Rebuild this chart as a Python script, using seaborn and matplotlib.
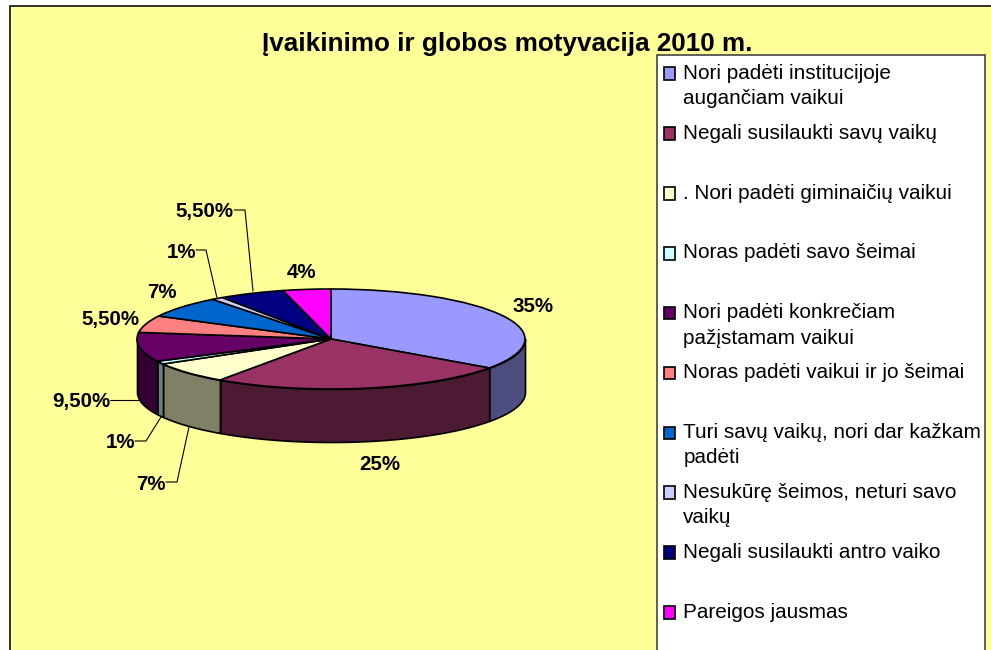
import numpy as np
import seaborn as sns
import matplotlib.pyplot as plt
from matplotlib.legend_handler import HandlerPatch
from matplotlib.patches import Patch, Rectangle

title = 'Įvaikinimo ir globos motyvacija 2010 m.'
categories = [
    'Nori padėti institucijoje\naugančiam vaikui',
    'Negali susilaukti savų vaikų\n ',
    '. Nori padėti giminaičių vaikui\n ',
    'Noras padėti savo šeimai\n ',
    'Nori padėti konkrečiam\npažįstamam vaikui',
    'Noras padėti vaikui ir jo šeimai\n ',
    'Turi savų vaikų, nori dar kažkam\npadėti',
    'Nesukūrę šeimos, neturi savo\nvaikų',
    'Negali susilaukti antro vaiko\n ',
    'Pareigos jausmas\n ',
]
values = [35, 25, 7, 1, 9.5, 5.5, 7, 1, 5.5, 4]
value_labels = ['35%', '25%', '7%', '1%', '9,50%', '5,50%', '7%', '1%', '5,50%', '4%']
colors = ['#9999FF', '#993366', '#FFFFCC', '#CCFFFF', '#660066',
          '#FF8080', '#0066CC', '#CCCCFF', '#000080', '#FF00FF']

# label centres and leader lines, in picture pixels
label_pos = [(533, 307), (380, 464), (151, 484), (120, 443), (81, 402),
             (110, 319), (162, 292), (181, 252), (204, 211), (301, 272)]
leaders = {
    2: [(166, 482), (177, 482), (189, 427)],
    3: [(135, 441), (146, 441), (161, 417)],
    4: [(110, 400), (138, 400)],
    7: [(196, 250), (206, 250), (217, 298)],
    8: [(234, 210), (245, 210), (253, 291)],
}

W, H = 991, 650
CX, CY, RX, RY, DEPTH = 331, 339, 194, 50, 53


def to_xy(px, py):
    return (px - CX) / RX, (CY - py) / RY


sns.set_theme(style='white')
plt.rcParams['font.family'] = ['Liberation Sans', 'DejaVu Sans']
palette = sns.color_palette(colors)

fig = plt.figure(figsize=(W / 100, H / 100), dpi=100, facecolor='white')
fig.patches.append(Rectangle((10 / W, -0.1), 1.1, 1.1 - 6 / H, transform=fig.transFigure,
                             facecolor='#FFFF99', edgecolor='#222222', linewidth=1.3,
                             zorder=-2))
# legend box runs off the bottom of the picture, so it is its own rectangle
fig.patches.append(Rectangle((657 / W, -0.1), 328 / W, 1.1 - 55 / H, transform=fig.transFigure,
                             facecolor='white', edgecolor='#444444', linewidth=1.2,
                             zorder=-1))
ax = fig.add_axes([0, 0, 1, 1])

# side wall of the disc, only the front half can be seen
depth = DEPTH / RY
ends = np.cumsum(values) / sum(values) * 360
starts = ends - np.array(values) / sum(values) * 360
for start, end, color in zip(starts, ends, palette):
    a, b = max(start, 90), min(end, 270)
    if a >= b:
        continue
    theta = np.radians(np.linspace(a, b, 60))
    x, y = np.sin(theta), np.cos(theta)
    ax.fill_between(x, y, y - depth, facecolor=np.array(color) * 0.5,
                    edgecolor='black', linewidth=1.2)

ax.pie(values, colors=palette, startangle=90, counterclock=False, radius=1,
       wedgeprops={'edgecolor': 'black', 'linewidth': 1.2})
ax.set_aspect('auto')
ax.set_xlim(-CX / RX, (W - CX) / RX)
ax.set_ylim((CY - H) / RY, CY / RY)
ax.patch.set_visible(False)

for text, (px, py) in zip(value_labels, label_pos):
    ax.text(*to_xy(px, py), text, ha='center', va='center', fontsize=14.8,
            fontweight='bold', color='black')
for points in leaders.values():
    xy = np.array([to_xy(*p) for p in points])
    ax.plot(xy[:, 0], xy[:, 1], color='black', linewidth=0.8)

fig.text(507 / W, 1 - 44 / H, title, ha='center', va='center', fontsize=18.7,
         fontweight='bold', color='black')


# legend swatch sits beside the first of the two text lines
def first_line_patch(legend, orig_handle, xdescent, ydescent, width, height, fontsize):
    return Rectangle((-xdescent, -ydescent + 12.5 * 0.72), width, height)


handles = [Patch(facecolor=c, edgecolor='black', linewidth=1.2) for c in palette]
leg = ax.legend(handles, categories, loc='upper left',
                bbox_to_anchor=(657 / W, 1 - 57 / H), bbox_transform=fig.transFigure,
                borderaxespad=0, fontsize=14.95, frameon=False, labelcolor='black',
                handlelength=0.56, handleheight=0.56, handletextpad=0.38,
                labelspacing=0.75, borderpad=0.33,
                handler_map={Patch: HandlerPatch(patch_func=first_line_patch)})
for label in leg.get_texts():
    label.set_linespacing(1.42)

fig.savefig('out.png', dpi=100)
